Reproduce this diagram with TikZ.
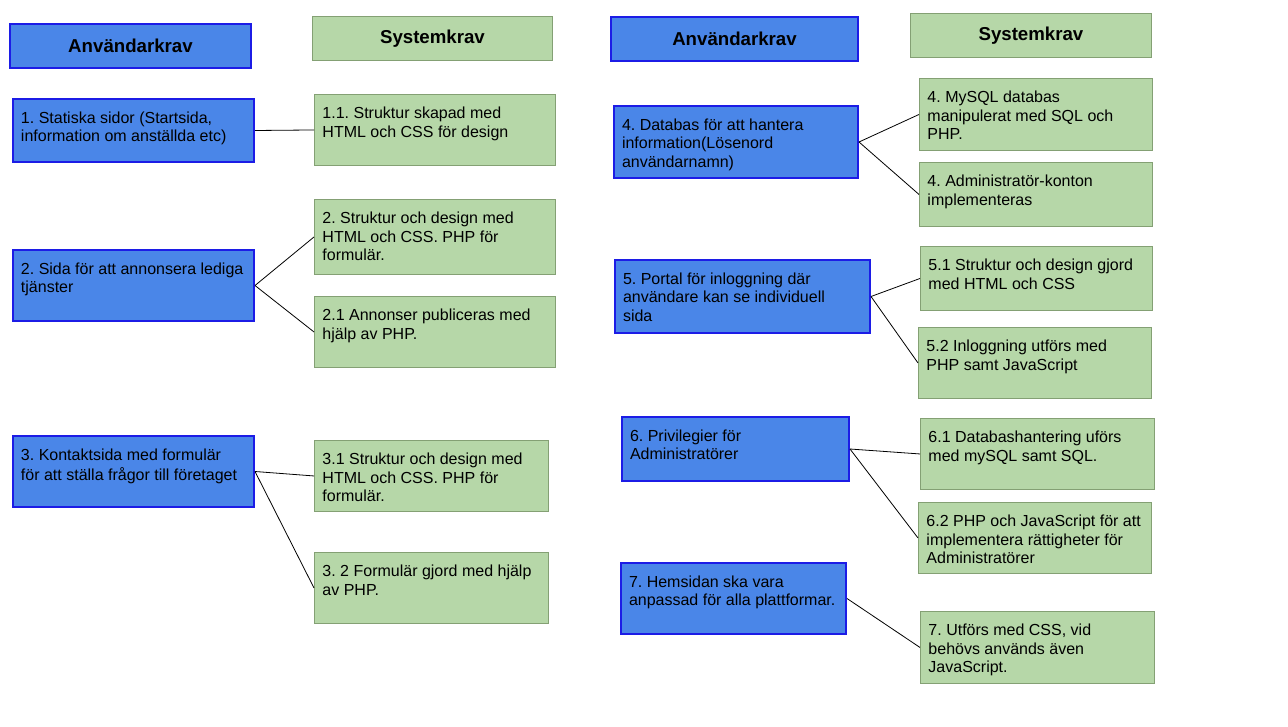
\documentclass[tikz,border=0pt]{standalone}
\usepackage{fontspec}
\setmainfont{Liberation Sans}
\frenchspacing
\newdimen\px \px=0.75pt
\newcommand{\krav}[3]{\parbox[c][\dimexpr#2\px-23.2\px\relax][t]{\dimexpr#1\px-16\px\relax}{\raggedright\strut#3}}
\definecolor{kravblue}{HTML}{4A86E8}
\definecolor{kravedge}{HTML}{1C1CE6}
\definecolor{sysgreen}{HTML}{B6D7A8}
\definecolor{sysedge}{HTML}{84A074}
\tikzset{
	akrav/.style={draw=kravedge,line width=1.5pt,fill=kravblue,anchor=north west,inner xsep=6pt,inner ysep=8.7pt,font=\fontsize{12pt}{13.8pt}\selectfont},
	skrav/.style={draw=sysedge,line width=0.7pt,fill=sysgreen,anchor=north west,inner xsep=6pt,inner ysep=8.7pt,font=\fontsize{12pt}{13.8pt}\selectfont},
	rubrik/.style={anchor=north west,inner sep=0pt,minimum height=33pt,font=\bfseries\fontsize{14pt}{16pt}\selectfont}
}
\begin{document}
\begin{tikzpicture}[x=0.75pt,y=-0.75pt]
		\useasboundingbox (0,0) rectangle (1288,727);

		\node[rubrik,draw=kravedge,line width=1.5pt,fill=kravblue,minimum width=180.75pt] at (9,23) (h1) {Användarkrav};
		\node[rubrik,draw=sysedge,line width=0.7pt,fill=sysgreen,minimum width=180pt] at (312,16) (h2) {Systemkrav};
		\node[rubrik,draw=kravedge,line width=1.5pt,fill=kravblue,minimum width=185.25pt] at (610,16) (h3) {Användarkrav};
		\node[rubrik,draw=sysedge,line width=0.7pt,fill=sysgreen,minimum width=180.75pt] at (910,13) (h4) {Systemkrav};

		\node[akrav] at (12,98) (a1) {\krav{241}{63}{1. Statiska sidor (Startsida,\\ information om anställda etc)}};
		\node[akrav] at (12,249) (a2) {\krav{241}{71}{2. Sida för att annonsera lediga\\ tjänster}};
		\node[akrav] at (12,435) (a3) {\krav{241}{71}{3. Kontaktsida med formulär\\ för att ställa frågor till företaget}};
		\node[akrav] at (613,105) (a4) {\krav{244}{72}{4. Databas för att hantera\\ information(Lösenord\\ användarnamn)}};
		\node[akrav] at (614,259) (a5) {\krav{255}{73}{5. Portal för inloggning där\\ användare kan se individuell\\ sida}};
		\node[akrav] at (621,416) (a6) {\krav{227}{64}{6. Privilegier för\\ Administratörer}};
		\node[akrav] at (620,562) (a7) {\krav{225}{71}{7. Hemsidan ska vara\\ anpassad för alla plattformar.}};

		\node[skrav] at (314,94) (s11) {\krav{241}{71}{1.1. Struktur skapad med\\ HTML och CSS för design}};
		\node[skrav] at (314,199) (s21) {\krav{241}{75}{2. Struktur och design med\\ HTML och CSS. PHP för\\ formulär.}};
		\node[skrav] at (314,296) (s22) {\krav{241}{71}{2.1 Annonser publiceras med\\ hjälp av PHP.}};
		\node[skrav] at (314,440) (s31) {\krav{234}{71}{3.1 Struktur och design med\\ HTML och CSS. PHP för\\ formulär.}};
		\node[skrav] at (314,552) (s32) {\krav{234}{71}{3. 2 Formulär gjord med hjälp\\ av PHP.}};
		\node[skrav] at (919,78) (s41) {\krav{233}{72}{4. MySQL databas\\ manipulerat med SQL och\\ PHP.}};
		\node[skrav] at (919,162) (s42) {\krav{233}{64}{4. Administratör-konton\\ implementeras}};
		\node[skrav] at (920,246) (s51) {\krav{232}{64}{5.1 Struktur och design gjord\\ med HTML och CSS}};
		\node[skrav] at (918,327) (s52) {\krav{233}{71}{5.2 Inloggning utförs med\\ PHP samt JavaScript}};
		\node[skrav] at (920,418) (s61) {\krav{234}{71}{6.1 Databashantering uförs\\ med mySQL samt SQL.}};
		\node[skrav] at (918,502) (s62) {\krav{233}{71}{6.2 PHP och JavaScript för att\\ implementera rättigheter för\\ Administratörer}};
		\node[skrav] at (920,611) (s7) {\krav{234}{72}{7. Utförs med CSS, vid\\ behövs används även\\ JavaScript.}};

		\draw[line width=0.6pt] (a1.east) -- (s11.west);
		\draw[line width=0.6pt] (a2.east) -- (s21.west);
		\draw[line width=0.6pt] (a2.east) -- (s22.west);
		\draw[line width=0.6pt] (a3.east) -- (s31.west);
		\draw[line width=0.6pt] (a3.east) -- (s32.west);
		\draw[line width=0.6pt] (a4.east) -- (s41.west);
		\draw[line width=0.6pt] (a4.east) -- (s42.west);
		\draw[line width=0.6pt] (a5.east) -- (s51.west);
		\draw[line width=0.6pt] (a5.east) -- (s52.west);
		\draw[line width=0.6pt] (a6.east) -- (s61.west);
		\draw[line width=0.6pt] (a6.east) -- (s62.west);
		\draw[line width=0.6pt] (a7.east) -- (s7.west);
	\end{tikzpicture}
\end{document}
